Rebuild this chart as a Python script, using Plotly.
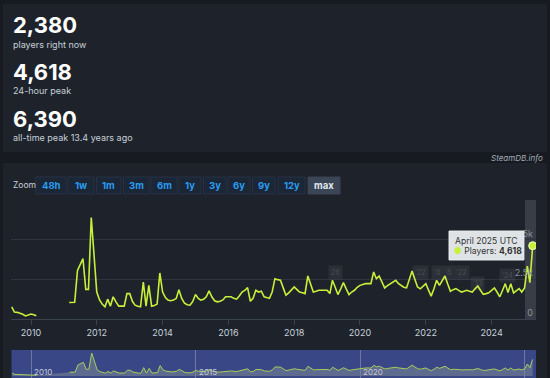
import plotly.graph_objects as go
import pandas as pd

W, H = 550, 378


def px(x):
    return x / W


def py(y):
    return 1 - y / H


# ---------------- data ----------------
months = pd.date_range("2009-06-01", "2025-04-01", freq="MS")
players = [
    # 2009 Jun-Dec
    770, 440, 420, 380, 300, 190, 250,
    # 2010
    310, 270, 200, None, None, None, None, None, None, None, None, None,
    # 2011
    None, None, 1040, 1050, 1060, 3060, 3400, 3800, 1870, 1870, 6390, 4100,
    # 2012
    1700, 1200, 940, 770, 1250, 810, 1400, 1080, 810, 820, 810, 1600,
    # 2013
    1600, 1100, 870, 800, 770, 2330, 810, 2120, 810, 850, 940, 2900,
    # 2014
    1700, 1350, 1190, 1150, 1190, 1300, 1850, 1300, 1000, 900, 870, 1100,
    # 2015
    1540, 1300, 1190, 1250, 1400, 1770, 1400, 1150, 1080, 1120, 1200, 1400,
    # 2016
    1420, 1400, 1300, 1250, 1450, 1700, 1800, 1980, 1120, 1300, 1810, 1700,
    # 2017
    1750, 1400, 1350, 1300, 1700, 2540, 2480, 2440, 1960, 1500, 1650, 1810,
    # 2018
    2020, 1850, 1700, 1650, 1600, 2710, 2200, 1700, 1750, 1810, 1810, 1810,
    # 2019
    1810, 1600, 2440, 2000, 1540, 1900, 2290, 1900, 1540, 1700, 1810, 2000,
    # 2020
    2120, 2180, 2230, 2230, 2230, 2960, 2540, 2710, 2300, 1960, 2100, 2230,
    # 2021
    2350, 2440, 2250, 2120, 2000, 1960, 2500, 3020, 2500, 2020, 1900, 2050,
    # 2022
    2230, 1800, 1440, 1900, 2440, 2120, 2400, 2710, 2200, 1750, 1850, 1920,
    # 2023
    1800, 1700, 1750, 1810, 1750, 1700, 1900, 2080, 1800, 1560, 1600, 1650,
    # 2024
    1800, 1960, 1700, 1400, 1800, 2230, 1670, 2230, 1650, 1800, 1920, 1700,
    # 2025 Jan-Apr
    1960, 3330, 2290, 4618,
]

year_ticks = [2010, 2012, 2014, 2016, 2018, 2020, 2022, 2024]
nav_years = [2010, 2015, 2020, 2025]
nav_labels = ["2010", "2015", "2020"]
y_tickvals = [0, 2500, 5000, 7500]
y_ticktext = ["0", "2.5k", "5k", ""]

players_now = 2380
peak_24h = 4618
all_time_peak = 6390
all_time_years_ago = 13.4

zoom_buttons = ["48h", "1w", "1m", "3m", "6m", "1y", "3y", "6y", "9y", "12y", "max"]
selected_button = "max"

# faint event flags (label, date) seen above the line
event_labels = ["26", "'22", "'8", "'8", "'22", "'13", "'24"]
event_dates = ["2019-04-01", "2021-11-01", "2022-05-01", "2022-09-01",
               "2023-02-01", "2023-08-01", "2024-07-01"]

# ---------------- style ----------------
OUTER = "#171a21"
PANEL = "#1e232b"
LIME = "#c6f03a"
GRID = "#2f3540"
FONT = "Inter"

btn_x = [(36, 66), (68, 94), (96.5, 121), (123.5, 149), (151, 177), (179, 201),
         (203.5, 226), (228, 250), (252.5, 275), (278, 305), (308, 340)]
event_y = [272, 272, 272, 272, 272, 283, 275]

X_RANGE = ["2009-05-24", "2025-05-08"]

fig = go.Figure()

# main line
fig.add_trace(go.Scatter(
    x=months, y=players, mode="lines", connectgaps=False,
    line=dict(color=LIME, width=1.6), hoverinfo="skip",
    xaxis="x", yaxis="y", showlegend=False))
# highlighted last point
fig.add_trace(go.Scatter(
    x=[months[-1]], y=[players[-1]], mode="markers",
    marker=dict(size=8, color=LIME, line=dict(color="#efffc0", width=1)),
    hoverinfo="skip", xaxis="x", yaxis="y", showlegend=False))
# navigator
fig.add_trace(go.Scatter(
    x=months, y=players, mode="lines", connectgaps=False, fill="tozeroy",
    fillcolor="rgba(125,135,150,0.55)", line=dict(color="#a6cf5a", width=1),
    hoverinfo="skip", xaxis="x2", yaxis="y2", showlegend=False))

shapes = []
# panels
shapes.append(dict(type="rect", xref="paper", yref="paper", x0=px(3), x1=px(547),
                   y0=py(152), y1=py(4), fillcolor=PANEL, line=dict(width=0), layer="below"))
shapes.append(dict(type="rect", xref="paper", yref="paper", x0=px(3), x1=px(547),
                   y0=py(380), y1=py(163), fillcolor=PANEL, line=dict(width=0), layer="below"))
# hover band
shapes.append(dict(type="rect", xref="paper", yref="paper", x0=px(525), x1=px(536),
                   y0=py(319), y1=py(200), fillcolor="rgba(190,200,215,0.16)",
                   line=dict(width=0), layer="below"))
# navigator background
shapes.append(dict(type="rect", xref="paper", yref="paper", x0=px(11.5), x1=px(536),
                   y0=py(380), y1=py(350), fillcolor="#3a4787", line=dict(width=0), layer="below"))
# zoom buttons
for (x0, x1), lab in zip(btn_x, zoom_buttons):
    sel = lab == selected_button
    shapes.append(dict(type="rect", xref="paper", yref="paper", x0=px(x0), x1=px(x1),
                       y0=py(194), y1=py(177),
                       fillcolor="#3a4555" if sel else "#1b2637",
                       line=dict(color="#3a4555" if sel else "#263246", width=1), layer="below"))
# tooltip box
shapes.append(dict(type="rect", xref="paper", yref="paper", x0=px(449), x1=px(524),
                   y0=py(260), y1=py(231), fillcolor="rgba(236,239,242,0.94)",
                   line=dict(color="rgba(236,239,242,0.94)", width=1), layer="above"))

annotations = []


def txt(x, y, s, size, color, anchor="left", bold=False, family=FONT, **kw):
    annotations.append(dict(
        x=px(x), y=py(y), xref="paper", yref="paper", text=f"<b>{s}</b>" if bold else s,
        showarrow=False, xanchor=anchor, yanchor="middle",
        font=dict(size=size, color=color, family=family), **kw))


# stats
txt(11, 25, f"{players_now:,}", 22, "#ffffff", bold=True)
txt(11, 44, "players right now", 9, "#c6d0d9")
txt(11, 72, f"{peak_24h:,}", 22, "#ffffff", bold=True)
txt(11, 91, "24-hour peak", 9, "#c6d0d9")
txt(11, 119, f"{all_time_peak:,}", 22, "#ffffff", bold=True)
txt(11, 137, f"all-time peak {all_time_years_ago} years ago", 9, "#c6d0d9")

# watermark
txt(545, 157.5, "<i>SteamDB.info</i>", 8, "#a3acb6", anchor="right")

# zoom row
txt(11, 185, "Zoom", 8.5, "#c6d0d9")
for (x0, x1), lab in zip(btn_x, zoom_buttons):
    sel = lab == selected_button
    txt((x0 + x1) / 2, 185.5, lab, 9.5, "#e2e8ee" if sel else "#2a9cf0", anchor="center", bold=True)

# faint event flags
for lab, d, ey in zip(event_labels, event_dates, event_y):
    annotations.append(dict(
        x=d, y=py(ey), xref="x", yref="paper", text=lab, showarrow=False,
        xanchor="center", yanchor="middle", bgcolor="rgba(255,255,255,0.06)",
        borderpad=2, font=dict(size=7, color="rgba(255,255,255,0.16)", family=FONT)))

# tooltip text
last_month = months[-1]
txt(453, 241, f"{last_month.strftime('%B %Y')} UTC", 8.6, "#333333")
txt(452, 251, f"<span style='color:{LIME}'>●</span> Players: <b>{players[-1]:,}</b>",
    8.6, "#333333")

# navigator labels
for lab in nav_labels:
    annotations.append(dict(
        x=f"{lab}-01-01", y=py(371.5), xref="x2", yref="paper", text=lab,
        showarrow=False, xanchor="left", yanchor="middle", xshift=1,
        font=dict(size=8, color="#c5ccd6", family=FONT)))

fig.update_layout(
    width=W, height=H,
    margin=dict(l=0, r=0, t=0, b=0),
    paper_bgcolor=OUTER,
    plot_bgcolor="rgba(0,0,0,0)",
    font=dict(family=FONT),
    shapes=shapes,
    annotations=annotations,
    xaxis=dict(
        domain=[px(11), px(536)], range=X_RANGE, type="date", anchor="y",
        tickmode="array",
        tickvals=[f"{y}-01-01" for y in year_ticks],
        ticktext=[str(y) for y in year_ticks],
        ticks="outside", ticklen=5, tickcolor="#3a4250", tickwidth=1,
        showline=True, linecolor="#3a4250", linewidth=1,
        showgrid=False, zeroline=False,
        tickfont=dict(size=9, color="#c7d1db", family=FONT),
    ),
    yaxis=dict(
        domain=[py(319), py(200)], range=[0, 7500], anchor="x", side="right",
        tickmode="array", tickvals=y_tickvals, ticktext=y_ticktext,
        ticklabelposition="inside top",
        showgrid=True, gridcolor=GRID, gridwidth=1,
        showline=False, zeroline=False, ticks="",
        tickfont=dict(size=9, color="#8a939d", family=FONT),
    ),
    xaxis2=dict(
        domain=[px(11.5), px(536)], range=X_RANGE, type="date", anchor="y2",
        tickmode="array", tickvals=[f"{y}-01-01" for y in nav_years],
        showticklabels=False, ticks="",
        showgrid=True, gridcolor="rgba(205,212,230,0.35)", gridwidth=1,
        showline=False, zeroline=False,
    ),
    yaxis2=dict(
        domain=[0, py(350)], range=[-556, 7224], anchor="x2",
        visible=False, showgrid=False, zeroline=False,
    ),
    hovermode=False,
)

fig.write_html(
    "out.html",
    config={"displayModeBar": False},
    post_script="document.body.style.margin='0';document.body.style.overflow='hidden';"
                "document.body.style.background='" + OUTER + "';",
)
